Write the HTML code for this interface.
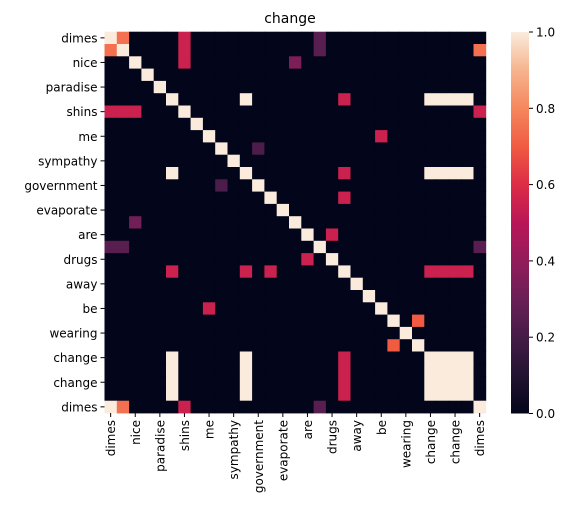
<!DOCTYPE html>
<html><head><meta charset="utf-8"><style>
body{margin:0;background:#fff;}
svg{display:block;font-family:"DejaVu Sans","Liberation Sans",sans-serif;}
</style></head><body>
<svg id="c" width="571" height="518" viewBox="0 0 571 518">
<defs>
<linearGradient id="cb" x1="0" y1="1" x2="0" y2="0">
<stop offset="0" stop-color="#03051a"/><stop offset="0.1" stop-color="#221331"/>
<stop offset="0.2" stop-color="#451c47"/><stop offset="0.3" stop-color="#6a1f56"/>
<stop offset="0.4" stop-color="#921c5b"/><stop offset="0.5" stop-color="#b91657"/>
<stop offset="0.6" stop-color="#dd2c45"/><stop offset="0.7" stop-color="#f05b42"/>
<stop offset="0.8" stop-color="#f5875e"/><stop offset="0.9" stop-color="#f6b48e"/>
<stop offset="1" stop-color="#faebdd"/>
</linearGradient>
</defs>
<text x="290" y="23" text-anchor="middle" font-size="14">change</text>
<g id="cells"></g><g id="axes"></g>
<rect x="511" y="32" width="18" height="381.5" fill="url(#cb)"/>
<g id="cbt"></g>
</svg>
<script>
const tokens=["dimes","","nice","","paradise","","shins","","me","","sympathy","","government","","evaporate","","are","","drugs","","away","","be","","wearing","","change","","change","","dimes"];
const diagonal=[0,1,2,3,4,5,6,7,8,9,10,11,12,13,14,15,16,17,18,19,20,21,22,23,24,25,26,27,28,29,30];
const cellRows=[0,1,0,1,2,0,1,1,2,5,5,5,5,5,5,6,6,6,6,8,9,11,11,11,11,11,11,12,13,15,16,17,17,17,18,19,19,19,19,19,19,19,22,23,25,26,27,28,29,26,27,28,29,26,27,28,29,26,26,26,26,27,27,27,27,28,28,28,28,29,29,29,29,30,30,30,30];
const cellCols=[1,0,6,6,6,17,17,30,15,11,19,26,27,28,29,0,1,2,30,22,12,5,19,26,27,28,29,9,19,2,18,0,1,30,16,5,11,13,26,27,28,29,8,25,23,5,5,5,5,11,11,11,11,19,19,19,19,26,27,28,29,26,27,28,29,26,27,28,29,26,27,28,29,0,1,6,17];
const cellVals=[0.75,0.75,0.55,0.55,0.55,0.25,0.25,0.75,0.35,1,0.55,1,1,1,1,0.55,0.55,0.55,0.55,0.55,0.22,1,0.55,1,1,1,1,0.22,0.55,0.32,0.55,0.25,0.25,0.25,0.55,0.55,0.55,0.55,0.55,0.55,0.55,0.55,0.55,0.7,0.7,1,1,1,1,1,1,1,1,0.55,0.55,0.55,0.55,1,1,1,1,1,1,1,1,1,1,1,1,1,1,1,1,1,0.75,0.55,0.25];
const cbTicks=[0,0.2,0.4,0.6,0.8,1.0];
const stops=[[0,3,5,26],[0.1,34,19,49],[0.2,69,28,71],[0.3,106,31,86],[0.4,146,28,91],[0.5,185,22,87],[0.6,221,44,69],[0.7,240,91,66],[0.8,245,135,94],[0.9,246,180,142],[1,250,235,221]];
function col(v){for(let i=1;i<stops.length;i++){if(v<=stops[i][0]){const a=stops[i-1],b=stops[i],t=(v-a[0])/(b[0]-a[0]);return `rgb(${[1,2,3].map(k=>Math.round(a[k]+(b[k]-a[k])*t)).join(',')})`;}}return 'rgb(250,235,221)';}
const X0=104.5,Y0=31.7,CW=12.3,N=tokens.length;
const xs=i=>X0+i*CW, ys=i=>Y0+i*CW;
const NS='http://www.w3.org/2000/svg';
const M=[];for(let r=0;r<N;r++){M.push(new Array(N).fill(0));}
diagonal.forEach(i=>{M[i][i]=1;});
cellRows.forEach((r,k)=>{M[r][cellCols[k]]=cellVals[k];});
const g=document.getElementById('cells');
for(let r=0;r<N;r++)for(let c=0;c<N;c++){
 const e=document.createElementNS(NS,'rect');
 e.setAttribute('x',xs(c));e.setAttribute('y',ys(r));e.setAttribute('width',CW+0.4);e.setAttribute('height',CW+0.4);
 e.setAttribute('fill',col(M[r][c]));
 
 
 g.appendChild(e);}
const ax=document.getElementById('axes');
tokens.forEach((t,i)=>{if(!t)return;
 const cy=ys(i)+CW/2, cx=xs(i)+CW/2;
 let l=document.createElementNS(NS,'line');l.setAttribute('x1',X0-4);l.setAttribute('x2',X0);l.setAttribute('y1',cy);l.setAttribute('y2',cy);l.setAttribute('stroke','#000');ax.appendChild(l);
 let tx=document.createElementNS(NS,'text');tx.setAttribute('x',X0-7);tx.setAttribute('y',cy+4.5);tx.setAttribute('text-anchor','end');tx.setAttribute('font-size','12');tx.textContent=t;
 
 
 ax.appendChild(tx);
 const yb=Y0+N*CW;
 l=document.createElementNS(NS,'line');l.setAttribute('x1',cx);l.setAttribute('x2',cx);l.setAttribute('y1',yb);l.setAttribute('y2',yb+4);l.setAttribute('stroke','#000');ax.appendChild(l);
 tx=document.createElementNS(NS,'text');tx.setAttribute('transform',`translate(${cx+4.5},${yb+7}) rotate(-90)`);tx.setAttribute('text-anchor','end');tx.setAttribute('font-size','12');tx.textContent=t;
 
 
 ax.appendChild(tx);});
const cb=document.getElementById('cbt');
cbTicks.forEach(v=>{const y=413.5-v*381.5;
 const l=document.createElementNS(NS,'line');l.setAttribute('x1',529);l.setAttribute('x2',533);l.setAttribute('y1',y);l.setAttribute('y2',y);l.setAttribute('stroke','#000');cb.appendChild(l);
 const t=document.createElementNS(NS,'text');t.setAttribute('x',536);t.setAttribute('y',y+4.5);t.setAttribute('font-size','12');t.textContent=v.toFixed(1);
 
 
 cb.appendChild(t);});
</script>
</body></html>
